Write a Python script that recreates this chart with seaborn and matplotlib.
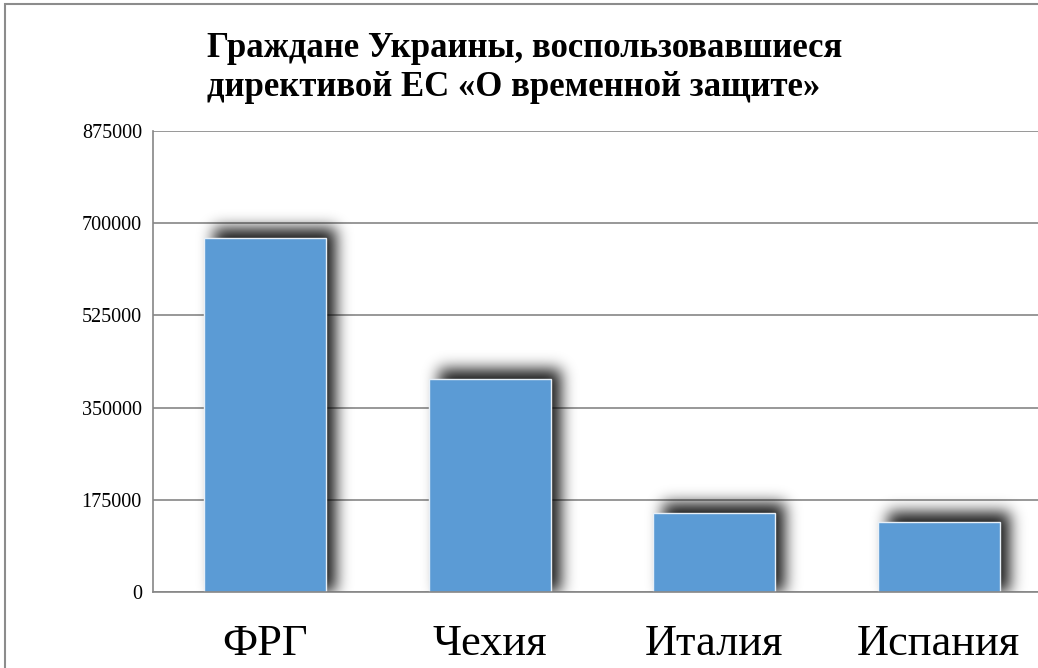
import matplotlib
matplotlib.use("Agg")
import numpy as np
import matplotlib.pyplot as plt
from matplotlib.patches import Rectangle
import seaborn as sns

# data
countries = ['ФРГ', 'Чехия', 'Италия', 'Испания']
refugees = [671000, 405000, 149000, 132000]
y_ticks = [0, 175000, 350000, 525000, 700000, 875000]

title = 'Граждане Украины, воспользовавшиеся\nдирективой ЕС «О временной защите»'

sns.set_theme(style="white")
plt.rcParams['font.family'] = ['Liberation Serif', 'DejaVu Serif']


def blur_shadow(im, dpi, sigma=7.5, pad=30):
    # gaussian blur of the alpha channel; rows below the original bottom are
    # dropped so the shadow stops at the category axis
    alpha = np.pad(im[..., 3], pad)
    r = np.arange(-int(3 * sigma), int(3 * sigma) + 1)
    k = np.exp(-0.5 * (r / sigma) ** 2)
    k /= k.sum()
    alpha = np.apply_along_axis(lambda v: np.convolve(v, k, mode='same'), 0, alpha)
    alpha = np.apply_along_axis(lambda v: np.convolve(v, k, mode='same'), 1, alpha)
    alpha[-pad:, :] = 0
    out = np.zeros(alpha.shape + (4,))
    out[..., 3] = alpha
    return out, -pad, -pad


fig = plt.figure(figsize=(10.38, 6.68), dpi=100)
ax = fig.add_axes([153 / 1038, 76 / 668, 898 / 1038, 461 / 668])

sns.barplot(x=countries, y=refugees, color='#5B9BD5', width=0.545,
            saturation=1, edgecolor='#e8f0f8', linewidth=1.0, ax=ax, zorder=3)

grid_col = '#868686'
ax.set_ylim(0, 875000)
ax.set_xlim(-0.5, 3.5)

# shadow shifted up and to the right by ~10 px, then blurred
inv = ax.transData.inverted()
p0 = inv.transform((0, 0))
p1 = inv.transform((10, 10))
dx, dy = p1[0] - p0[0], p1[1] - p0[1]
for bar in list(ax.patches):
    sh = Rectangle((bar.get_x() + dx, 0), bar.get_width(), bar.get_height() + dy,
                   facecolor='black', edgecolor='none', alpha=0.9, zorder=2)
    sh.set_agg_filter(blur_shadow)
    ax.add_patch(sh)

ax.set_yticks(y_ticks)
ax.set_yticklabels([str(v) for v in y_ticks], fontsize=14.5, color='black')
ax.yaxis.grid(True, color=grid_col, linewidth=1.2)
ax.set_axisbelow(True)

ax.set_xticks(range(len(countries)))
ax.set_xticklabels(countries, fontsize=32, color='black')
ax.set_xticks([-0.5, 0.5, 1.5, 2.5, 3.5], minor=True)
ax.tick_params(axis='x', which='major', length=0, pad=23)
ax.tick_params(axis='x', which='minor', length=10, width=1.2, color=grid_col, direction='out')
ax.tick_params(axis='y', length=7, width=1.2, color=grid_col, direction='out', pad=1)

for side in ['top', 'right']:
    ax.spines[side].set_visible(False)
for side in ['left', 'bottom']:
    ax.spines[side].set_color(grid_col)
    ax.spines[side].set_linewidth(1.2)
    ax.spines[side].set_zorder(4)

fig.text(207 / 1038, 1 - 32 / 668, title, ha='left', va='top', color='black',
         fontsize=25, fontweight='bold', linespacing=1.22)

# outer chart border (cropped on right and bottom)
fig.patches.append(Rectangle((5 / 1038, -0.1), 1.2, 1.1 - 4 / 668,
                             transform=fig.transFigure, fill=False,
                             edgecolor='#8c8c8c', linewidth=1.5))

fig.savefig('out.png', dpi=100)
